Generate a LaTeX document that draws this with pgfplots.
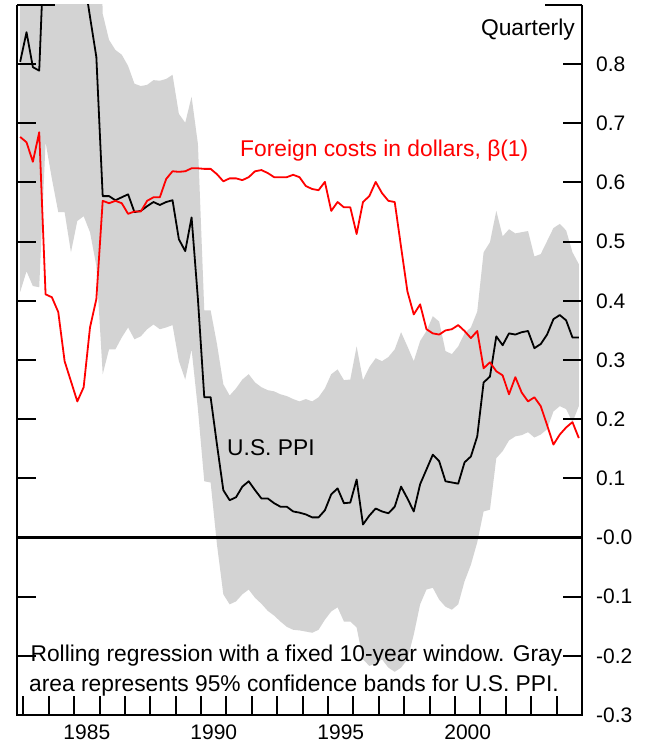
\documentclass[border=0pt]{standalone}
\usepackage{fontspec}
\setmainfont{Liberation Sans}
\usepackage{pgfplots}
\pgfplotsset{compat=1.18}
\usepackage{pgfplotstable}
\usepgfplotslibrary{fillbetween}
\definecolor{band}{RGB}{211,211,211}
\pgfplotstableread{
x red black up lo
1982.875 0.677 0.804 1.3 0.415
1983.125 0.668 0.854 1.3 0.450
1983.375 0.635 0.795 1.3 0.425
1983.625 0.685 0.789 1.3 0.423
1983.875 0.411 1.06 1.3 0.668
1984.125 0.406 1.10 1.3 0.606
1984.375 0.381 1.10 1.3 0.550
1984.625 0.298 1.10 1.3 0.550
1984.875 0.264 1.10 1.3 0.482
1985.125 0.230 1.05 1.3 0.535
1985.375 0.254 0.95 1.3 0.543
1985.625 0.355 0.88 1.3 0.516
1985.875 0.403 0.812 1.3 0.459
1986.125 0.569 0.577 0.885 0.276
1986.375 0.565 0.577 0.841 0.318
1986.625 0.569 0.570 0.824 0.318
1986.875 0.565 0.575 0.816 0.338
1987.125 0.547 0.580 0.797 0.355
1987.375 0.551 0.550 0.767 0.335
1987.625 0.551 0.552 0.763 0.340
1987.875 0.569 0.560 0.765 0.352
1988.125 0.575 0.567 0.773 0.360
1988.375 0.575 0.562 0.772 0.352
1988.625 0.606 0.567 0.775 0.355
1988.875 0.619 0.570 0.782 0.359
1989.125 0.618 0.504 0.716 0.298
1989.375 0.619 0.484 0.701 0.267
1989.625 0.624 0.541 0.745 0.318
1989.875 0.624 0.403 0.665 0.217
1990.125 0.623 0.237 0.384 0.095
1990.375 0.623 0.237 0.384 0.093
1990.625 0.614 0.157 0.327 -0.012
1990.875 0.602 0.080 0.259 -0.096
1991.125 0.607 0.063 0.240 -0.113
1991.375 0.607 0.068 0.252 -0.108
1991.625 0.604 0.086 0.267 -0.096
1991.875 0.609 0.095 0.276 -0.088
1992.125 0.619 0.080 0.262 -0.102
1992.375 0.621 0.066 0.254 -0.112
1992.625 0.616 0.066 0.249 -0.124
1992.875 0.609 0.058 0.247 -0.132
1993.125 0.609 0.052 0.242 -0.142
1993.375 0.609 0.052 0.239 -0.151
1993.625 0.613 0.044 0.234 -0.156
1993.875 0.609 0.042 0.230 -0.157
1994.125 0.594 0.039 0.234 -0.159
1994.375 0.589 0.034 0.230 -0.161
1994.625 0.587 0.034 0.237 -0.156
1994.875 0.601 0.046 0.252 -0.139
1995.125 0.552 0.073 0.276 -0.125
1995.375 0.567 0.083 0.284 -0.118
1995.625 0.558 0.058 0.266 -0.142
1995.875 0.558 0.059 0.267 -0.142
1996.125 0.513 0.098 0.323 -0.152
1996.375 0.567 0.022 0.266 -0.206
1996.625 0.577 0.037 0.288 -0.217
1996.875 0.601 0.049 0.303 -0.213
1997.125 0.582 0.044 0.298 -0.206
1997.375 0.569 0.041 0.305 -0.220
1997.625 0.567 0.052 0.318 -0.227
1997.875 0.491 0.086 0.347 -0.220
1998.125 0.416 0.066 0.323 -0.206
1998.375 0.377 0.044 0.298 -0.164
1998.625 0.394 0.090 0.332 -0.113
1998.875 0.352 0.115 0.349 -0.088
1999.125 0.345 0.140 0.374 -0.085
1999.375 0.343 0.129 0.365 -0.105
1999.625 0.350 0.095 0.315 -0.117
1999.875 0.352 0.093 0.310 -0.122
2000.125 0.359 0.091 0.323 -0.113
2000.375 0.349 0.127 0.345 -0.074
2000.625 0.337 0.137 0.355 -0.046
2000.875 0.349 0.171 0.382 -0.008
2001.125 0.286 0.262 0.482 0.044
2001.375 0.296 0.272 0.499 0.047
2001.625 0.281 0.340 0.552 0.134
2001.875 0.274 0.325 0.509 0.146
2002.125 0.242 0.345 0.521 0.164
2002.375 0.271 0.343 0.514 0.171
2002.625 0.245 0.347 0.516 0.173
2002.875 0.230 0.349 0.518 0.178
2003.125 0.237 0.320 0.475 0.169
2003.375 0.222 0.327 0.479 0.174
2003.625 0.190 0.343 0.501 0.183
2003.875 0.157 0.369 0.523 0.213
2004.125 0.174 0.376 0.530 0.222
2004.375 0.186 0.367 0.519 0.217
2004.625 0.195 0.338 0.482 0.195
2004.875 0.168 0.338 0.462 0.222
}\data
\begin{document}
\fontsize{21}{25}\selectfont
\begin{tikzpicture}
\begin{axis}[
  at={(17pt,30pt)}, anchor=south west,
  scale only axis, width=565pt, height=710pt,
  xmin=1982.75, xmax=2005, ymin=-0.3, ymax=0.9,
  axis on top, axis line style={draw=none},
  no markers,
  tick align=inside, major tick length=19pt,
  tick style={line width=2pt, black},
  ytick={-0.3,-0.2,-0.1,0,0.1,0.2,0.3,0.4,0.5,0.6,0.7,0.8},
  yticklabels={-0.3,-0.2,-0.1,-0.0,0.1,0.2,0.3,0.4,0.5,0.6,0.7,0.8},
  ytick pos=both, yticklabel pos=right,
  yticklabel style={anchor=west, inner sep=0pt, xshift=14pt},
  xtick={1983,1984,1985,1986,1987,1988,1989,1990,1991,1992,1993,1994,1995,1996,1997,1998,1999,2000,2001,2002,2003,2004},
  xticklabels={}, xtick pos=left,
  extra x ticks={1985.5,1990.5,1995.5,2000.5},
  extra x tick labels={1985,1990,1995,2000},
  extra x tick style={major tick length=0pt},
  xticklabel style={inner sep=0pt, anchor=north, yshift=-10pt},
]
\addplot[draw=none, name path=U, forget plot] table[x=x,y=up]{\data};
\addplot[draw=none, name path=L, forget plot] table[x=x,y=lo]{\data};
\addplot[band, draw=none] fill between[of=U and L];
\addplot[black, line width=2.2pt] coordinates {(1982.75,0) (2005,0)};
\addplot[black, line width=1.8pt, line join=round] table[x=x,y=black]{\data};
\addplot[red, line width=1.8pt, line join=round] table[x=x,y=red]{\data};
\end{axis}
\draw[line width=2.2pt] (17pt,740pt) -- (17pt,30pt) -- (582pt,30pt) -- (582pt,740pt);
\draw[line width=2pt] (17pt,740pt) -- (55pt,740pt);
\draw[line width=2pt] (545pt,740pt) -- (582pt,740pt);
\begin{scope}[every node/.style={font=\fontsize{22.8}{27}\selectfont, inner sep=0pt}]
\node[anchor=base east] at (575pt,709pt) {Quarterly};
\node[anchor=base west, text=red] at (240pt,588pt) {Foreign costs in dollars, β(1)};
\node[anchor=base west] at (227pt,289pt) {U.S. PPI};
\node[anchor=base] at (296.5pt,83pt) {Rolling regression with a fixed 10-year window. Gray};
\node[anchor=base] at (294pt,53pt) {area represents 95\% confidence bands for U.S. PPI.};
\end{scope}
\pgfresetboundingbox
\useasboundingbox (0pt,0pt) rectangle (649pt,745pt);
\end{tikzpicture}
\end{document}
